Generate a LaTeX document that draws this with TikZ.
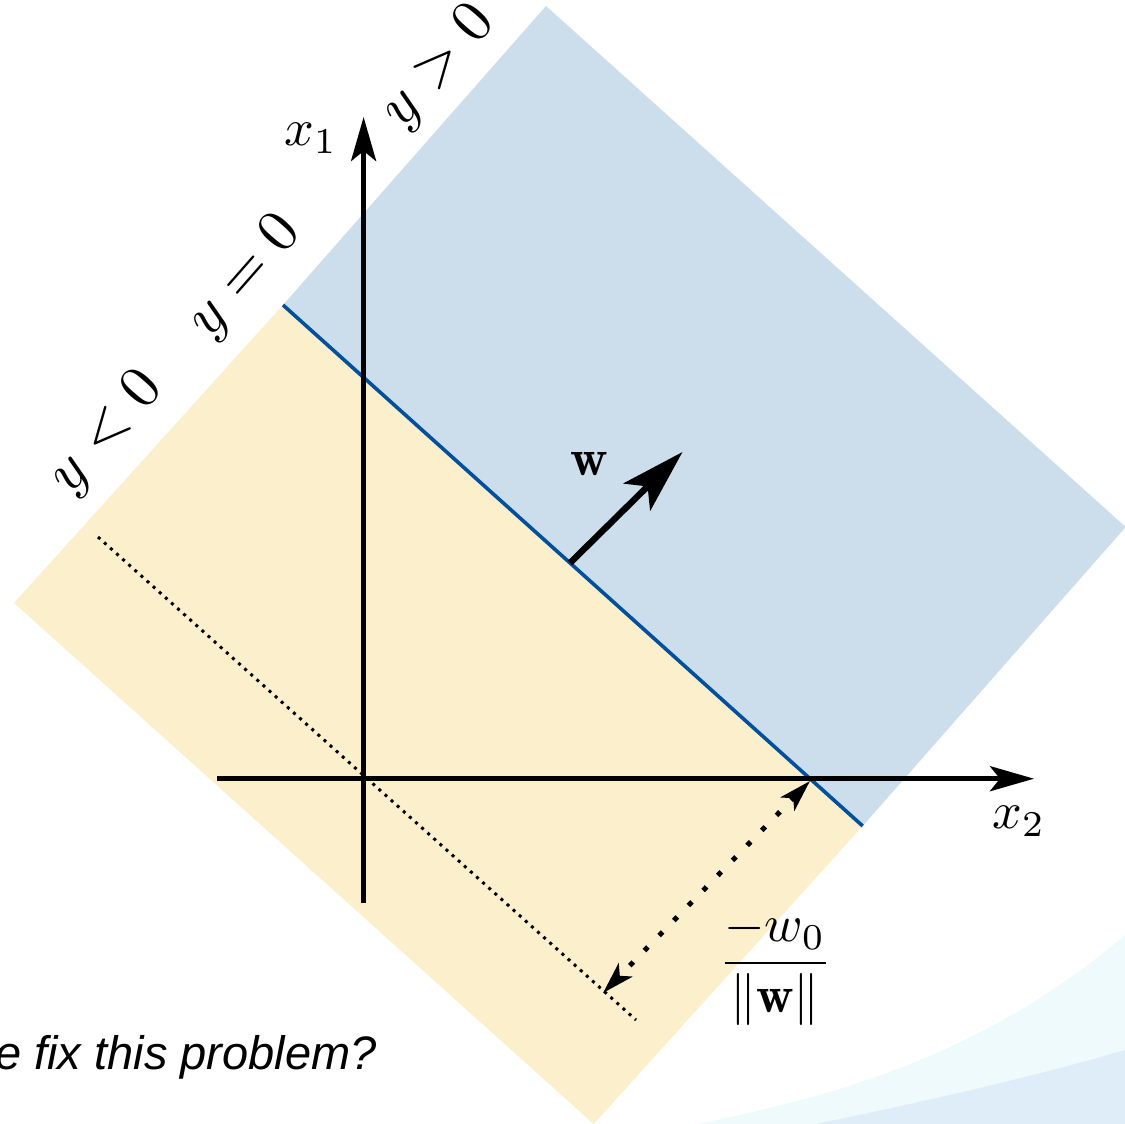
\documentclass[tikz,border=0pt]{standalone}
\usepackage{fontspec}
\newfontfamily\slidefont{Liberation Sans}
\usetikzlibrary{arrows.meta}
\definecolor{posblue}{HTML}{CCDEEC}
\definecolor{negyellow}{HTML}{FCEFCC}
\definecolor{bndblue}{HTML}{0050A0}
\definecolor{swoosha}{HTML}{EFFAFD}
\definecolor{swooshb}{HTML}{DEEDF7}
\tikzset{
  axisline/.style={line width=2.5pt, -{Stealth[length=22pt,width=12.5pt,inset=5pt]}},
  wvec/.style={line width=3.2pt, -{Stealth[length=32pt,width=19pt,inset=7.5pt]}},
  distarrow/.style={line width=2.5pt, dash pattern=on 2.5pt off 8pt,
     {Stealth[length=16pt,width=9.5pt,inset=4pt]}-{Stealth[length=16pt,width=9.5pt,inset=4pt]}},
  bound/.style={line width=1.8pt, draw=bndblue},
  origline/.style={line width=1.5pt, dash pattern=on 1.5pt off 2.6pt},
  mlabel/.style={inner sep=0pt, scale=2.6},
  rlabel/.style={inner sep=0pt, scale=3, rotate=48.7},
}
\begin{document}
\begin{tikzpicture}[x=0.5pt,y=-0.5pt]
\useasboundingbox (0,0) rectangle (1125,1124);
% background swooshes
\fill[swoosha] (697,1124) .. controls (840,1095) and (985,1054) .. (1125,935) -- (1125,1124) -- cycle;
\fill[swooshb] (815,1124) .. controls (920,1103) and (1040,1075) .. (1125,1050) -- (1125,1124) -- cycle;
% corner coordinates
\coordinate (A) at (283,305);
\coordinate (B) at (862.7,826);
\coordinate (D) at (546,6);
\coordinate (C) at (1125.7,527);
\coordinate (F) at (14,603);
\coordinate (E) at (593.7,1124);
% regions
\fill[posblue] (A) -- (D) -- (C) -- (B) -- cycle;
\fill[negyellow] (A) -- (B) -- (E) -- (F) -- cycle;
% decision boundary
\draw[bound] (A) -- (B);
% parallel line through origin
\coordinate (d1) at (98,537);
\coordinate (d2) at (636,1020);
\draw[origline] (d1) -- (d2);
% axes
\coordinate (x1s) at (363.6,903);
\coordinate (x1e) at (363.6,117);
\coordinate (x2s) at (217,778.7);
\coordinate (x2e) at (1034,778.7);
\draw[axisline] (x1s) -- (x1e);
\draw[axisline] (x2s) -- (x2e);
% w vector
\coordinate (ws) at (570,563);
\coordinate (we) at (682.5,452);
\draw[wvec] (ws) -- (we);
% distance arrow
\coordinate (p1) at (810,781);
\coordinate (p2) at (603,993);
\draw[distarrow] (p1) -- (p2);
% labels
\node[mlabel] (x1lab) at (311,138) {$x_1$};
\node[mlabel] (x2lab) at (1019,821) {$x_2$};
\node[mlabel] (wlab) at (589,464) {$\mathbf{w}$};
\node[mlabel] (frac) at (775,968) {$\displaystyle\frac{-w_0}{\|\mathbf{w}\|}$};
\node[rlabel] (ypos) at (439,67) {$y>0$};
\node[rlabel] (yzero) at (246,277) {$y=0$};
\node[rlabel] (yneg) at (107,433) {$y<0$};
\node[anchor=base east, inner sep=0pt, font=\slidefont\itshape\fontsize{23.5}{28}\selectfont] (q) at (377,1069) {e fix this problem?};
\end{tikzpicture}
\end{document}
